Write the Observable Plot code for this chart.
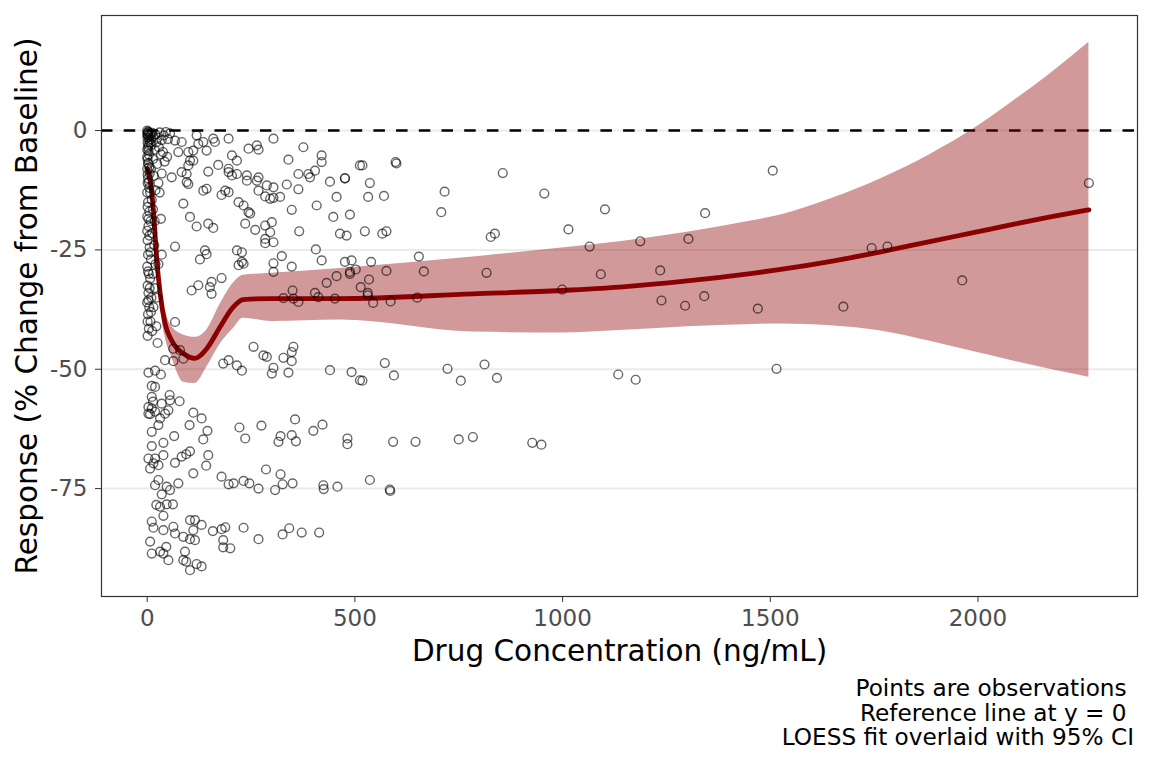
<!DOCTYPE html>
<html>
<head>
<meta charset="utf-8">
<script src="https://cdn.jsdelivr.net/npm/d3@7"></script>
<script src="https://cdn.jsdelivr.net/npm/@observablehq/plot@0.6"></script>
<style>
  html, body { margin: 0; padding: 0; background: #fff; }
  #chart svg { display: block; }
  #caption {
    width: 1152px; box-sizing: border-box; padding: 4px 18px 0 0;
    text-align: right; font-family: "DejaVu Sans", sans-serif; font-size: 23.2px;
    line-height: 24.6px; color: #000; white-space: pre;
  }
</style>
</head>
<body>
<div id="chart"></div>
<div id="caption"></div>
<script>
// observations: [concentration (ng/mL), response (% change from baseline)]
const observations = [
  [0,0],[1,-0.5],[2,-1],[0.5,-1.5],[3,-0.3],[5,-2],[8,-1],[12,-0.5],[15,-1.2],[20,-0.8],[25,-1.5],[30,-0.4],[35,-2],[40,-1],[45,-0.3],[50,-1.8],[55,-0.6],
  [1,-2.5],[2,-3.5],[0,-4],[4,-5],[1,-6],[3,-7],[0,-8],[6,-9],[2,-10],[1,-11],[5,-12],[0,-13],[3,-3],[10,-3],[18,-4],[22,-2.5],[28,-3.5],[33,-5],[14,-6],
  [24,-7],[38,-4.5],[42,-6.5],[48,-5.5],[9,-8],[16,-9.5],[27,-11],[35,-9],[20,-12.5],[11,-14.5],[30,-13],[2,-15],[5,-17],[0,-18],[8,-19],[3,-20],[12,-21.5],
  [1,-23],[6,-24.5],[2,-26],[9,-27],[0,-28.5],[4,-30],[7,-31],[1,-32.5],[3,-34],[10,-35],[0,-36],[5,-37],[2,-38.5],[8,-40],[4,-41.5],[12,-42],[1,-43],
  [18,-33],[15,-37],[20,-28],[22,-41],[25,-44.5],
  [0,-0.8],[2,-0.2],[4,-1.4],[6,-0.6],[7,-2.6],[10,-1.8],[3,-4.2],[0,-5.5],[2,-6.8],[5,-7.7],[1,-9.2],[4,-10.8],[7,-13],[1,-16],[3,-18.5],[0,-21],[5,-22],
  [8,-25.5],[2,-29.5],[6,-33],[3,-35.5],[9,-38],[1,-40],[14,-16.5],[18,-19],[33,-18.5],[35,-26],[27,-28],[17,-24],[23,-35],[14,-30],
  [67,-2.1],[83,-2.4],[119,-1.0],[123,-2.8],[135,-2.4],[159,-1.7],[163,-2.4],[196,-1.7],[304,-1.7],[244,-3.8],[264,-3.1],[268,-4.0],[376,-3.5],[340,-6.1],
  [420,-5.2],[420,-6.6],[512,-7.3],[75,-4.5],[99,-4.5],[111,-4.2],[143,-4.2],[103,-6.3],[111,-6.3],[204,-5.2],[216,-6.3],[99,-7.3],[95,-9.1],[83,-8.7],
  [147,-8.6],[171,-7.2],[196,-8.0],[196,-8.7],[204,-9.4],[216,-9.1],[240,-9.4],[240,-10.5],[268,-9.8],[264,-10.5],[364,-9.1],[388,-9.1],[392,-9.8],[404,-8.4],
  [440,-10.7],[476,-10.0],[59,-9.8],[95,-10.8],[99,-11.2],[135,-12.6],[143,-12.2],[179,-13.5],[188,-12.6],[196,-12.9],[288,-11.5],[304,-11.9],[336,-11.3],
  [364,-12.3],[268,-12.6],[284,-13.8],[296,-14.3],[304,-14.1],[320,-13.9],[456,-13.9],[87,-15.3],[220,-15.0],[232,-15.7],[244,-17.1],[248,-17.4],[348,-16.6],
  [408,-15.7],[448,-18.1],[488,-17.6],[103,-18.1],[119,-20.1],[147,-19.5],[159,-20.4],[236,-19.5],[260,-20.8],[284,-19.9],[300,-19.2],[296,-21.3],[284,-22.7],
  [284,-23.6],[304,-23.4],[366,-21.1],[464,-21.6],[480,-22.0],[67,-24.3],[127,-27.0],[139,-25.1],[143,-25.9],[216,-25.1],[228,-25.5],[220,-28.2],[232,-27.9],
  [228,-27.5],[304,-27.8],[324,-26.3],[348,-28.5],[304,-29.6],[406,-24.9],[420,-27.2],[476,-27.5],[492,-27.2],[488,-29.6],[107,-33.5],[123,-32.4],[151,-32.8],
  [155,-31.7],[155,-34.2],[179,-30.9],[328,-35.1],[350,-33.5],[352,-35.2],[364,-35.9],[404,-34.0],[412,-34.9],[432,-31.9],[452,-35.2],[456,-30.5],[488,-30.0],
  [67,-40.1],[256,-45.3],[352,-45.3],[348,-46.4],[280,-47.1],[63,-45.7],
  [79,-46.0],[43,-48.1],[63,-48.3],[87,-47.8],[288,-47.4],[328,-47.6],[348,-48.3],[183,-48.8],[196,-48.1],[216,-49.2],[228,-50.3],[304,-49.7],[300,-50.9],
  [340,-50.7],[440,-50.2],[492,-50.6],[512,-52.3],[3,-50.7],[19,-50.3],[33,-51.1],[11,-53.5],[19,-53.7],[11,-55.8],[14,-56.8],[3,-57.9],[11,-58.2],[3,-59.3],
  [7,-59.4],[19,-58.9],[35,-57.2],[54,-55.4],[55,-56.5],[78,-56.7],[51,-58.6],[43,-59.3],[31,-60.3],[27,-61.7],[11,-63.1],[39,-65.4],[65,-64.0],[102,-61.7],
  [111,-59.1],[131,-60.3],[145,-62.9],[135,-64.7],[11,-66.1],[39,-68.0],[3,-68.7],[19,-68.7],[15,-69.7],[7,-70.8],[27,-70.1],[83,-68.3],[94,-67.8],[103,-67.2],
  [67,-69.6],[147,-68.0],[142,-70.2],[111,-71.8],[222,-62.2],[275,-61.8],[236,-64.5],[321,-64.0],[348,-63.8],[356,-60.5],[316,-65.2],[358,-65.1],[400,-62.9],
  [422,-61.6],[482,-64.5],[482,-65.7],[27,-73.2],[19,-74.3],[47,-74.6],[55,-75.3],[75,-73.9],[35,-76.2],[286,-71.0],[321,-72.0],[179,-72.5],[196,-74.1],
  [208,-73.9],[232,-73.4],[246,-73.9],[268,-75.0],[308,-75.3],[326,-74.1],[350,-73.9],[424,-74.3],[425,-75.1],[458,-74.6],[22,-78.4],[31,-78.8],[47,-78.3],
  [62,-78.3],[39,-80.7],[11,-81.9],[15,-83.2],[39,-83.7],[63,-83.0],[67,-84.4],[7,-86.1],[11,-88.6],[31,-88.2],[39,-88.6],[51,-90.0],[46,-87.2],[87,-85.1],
  [103,-85.6],[115,-85.8],[103,-81.6],[115,-81.6],[111,-83.7],[131,-82.6],[91,-88.2],[87,-90.0],[94,-90.3],[103,-92.1],[119,-90.8],[131,-91.3],[158,-83.9],
  [179,-83.5],[188,-83.1],[183,-85.8],[183,-87.3],[200,-87.5],[232,-83.2],[268,-85.6],[326,-84.6],[342,-83.3],[372,-84.2],[414,-84.2],
  [518,-7.3],[598,-6.6],[600,-6.9],[476,-10.0],[536,-11.0],[532,-13.9],[570,-13.7],[716,-12.8],[708,-17.1],[856,-8.9],[956,-13.2],[1102,-16.5],[524,-21.1],
  [566,-21.6],[576,-21.1],[827,-22.3],[837,-21.6],[1014,-20.7],[1065,-24.3],[539,-27.5],[502,-29.1],[534,-31.2],[576,-29.4],[654,-26.4],[666,-29.5],[817,-29.8],
  [1092,-30.1],[514,-32.8],[531,-34.0],[531,-34.5],[544,-36.1],[586,-35.8],[650,-35.0],[999,-33.3],
  [518,-52.4],[572,-48.7],[594,-51.3],[723,-49.9],[755,-52.4],[812,-49.0],[842,-51.8],[1134,-51.1],[592,-65.2],[646,-65.2],[750,-64.7],[784,-64.2],[927,-65.4],
  [949,-65.8],[536,-73.2],[584,-75.2],[585,-75.5],
  [1506,-8.4],[2267,-11.0],[1343,-17.3],[1187,-23.2],[1303,-22.7],[1235,-29.3],[1744,-24.6],[1782,-24.3],[1962,-31.4],[1238,-35.6],[1295,-36.7],[1341,-34.7],
  [1470,-37.3],[1676,-36.9],[1176,-52.2],[1515,-49.9]
];

// LOESS fit with 95% CI
const fitConc = [0, 7, 15, 23, 31, 43, 59, 87, 115, 144, 175, 207, 231, 300, 464, 784, 998, 1137, 1300, 1457, 1525, 1646, 1766, 1887, 1983, 2087, 2168, 2267];
const fitResp = [-8, -10.5, -16.7, -27, -34, -40.4, -44, -46.7, -47.7, -45.6, -41.2, -37, -35.4, -35.2, -35.2, -34.2, -33.5, -32.8, -31.5, -29.9, -29.1, -27.4, -25.4, -23.2, -21.5, -19.6, -18.2, -16.6];
const fitLow  = [-9.5, -12.2, -18.7, -29.3, -36.6, -43.2, -47.5, -52.7, -53, -49.5, -44.8, -41.5, -39.3, -40, -39.7, -42.2, -42.4, -41.9, -41.1, -40.6, -40.5, -40.9, -42.0, -44.2, -46.2, -48.3, -49.9, -51.7];
const fitHigh = [-6.5, -8.8, -14.7, -24.7, -31.4, -37.6, -41, -42.8, -43.3, -41.7, -36.5, -32, -30.3, -29.9, -28.9, -26.5, -24.6, -23.3, -21.3, -18.9, -17.7, -14.3, -10.1, -4.9, 0, 6.3, 11.5, 18.5];

const xTicks = [0, 500, 1000, 1500, 2000];
const yTicks = [0, -25, -50, -75];
const captionLines = ["Points are observations ", "Reference line at y = 0 ", "LOESS fit overlaid with 95% CI"];

const pts = observations.map(([c, r]) => ({c, r}));
const fit = fitConc.map((c, i) => ({c, y: fitResp[i], lo: fitLow[i], hi: fitHigh[i]}));

const font = "DejaVu Sans, sans-serif";
const chart = Plot.plot({
  width: 1152,
  height: 672,
  marginLeft: 101,
  marginRight: 15,
  marginTop: 15,
  marginBottom: 76,
  style: {fontFamily: font, background: "#fff"},
  x: {domain: [-110, 2384]},
  y: {domain: [-97.6, 24.1]},
  marks: [
    Plot.ruleY(yTicks, {stroke: "#EBEBEB", strokeWidth: 2}),
    Plot.ruleY([0], {stroke: "#000", strokeWidth: 2.6, strokeDasharray: "11.5,11.2"}),
    Plot.areaY(fit, {x: "c", y1: "lo", y2: "hi", fill: "darkred", fillOpacity: 0.4, curve: "monotone-x"}),
    Plot.line(fit, {x: "c", y: "y", stroke: "#8B0000", strokeWidth: 4.8, curve: "monotone-x"}),
    Plot.dot(pts, {x: "c", y: "r", r: 4.4, stroke: "#000", strokeOpacity: 0.6, strokeWidth: 1.4, fill: "none"}),
    Plot.frame({stroke: "#333", strokeWidth: 1.2}),
    Plot.axisX(xTicks, {tickSize: 6, tickPadding: 7, fontSize: 23, color: "#4D4D4D", stroke: "#333", label: null, tickFormat: d => String(d)}),
    Plot.axisY(yTicks, {tickSize: 6, tickPadding: 8, fontSize: 23, color: "#4D4D4D", stroke: "#333", label: null, tickFormat: d => String(d)}),
    Plot.text(["Drug Concentration (ng/mL)"], {frameAnchor: "bottom", dy: 55, fontSize: 29.5, fill: "#000", lineAnchor: "middle", textAnchor: "middle"}),
    Plot.text(["Response (% Change from Baseline)"], {frameAnchor: "left", dx: -74, rotate: -90, fontSize: 29.5, fill: "#000", lineAnchor: "middle", textAnchor: "middle"})
  ]
});
document.getElementById("chart").appendChild(chart);
document.getElementById("caption").textContent = captionLines.join("\n");
</script>
</body>
</html>
